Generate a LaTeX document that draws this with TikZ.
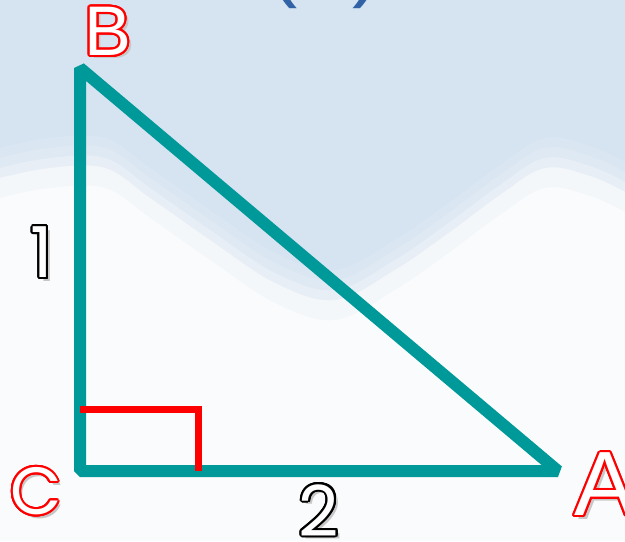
\documentclass[tikz,border=0pt]{standalone}
\usepackage{fontspec}
\usepackage{xcolor}
\usepackage[copies]{contour}
\usepackage{tikz}
\usetikzlibrary{calc, positioning}
\newfontfamily\vertexfont{Liberation Sans}
\newfontfamily\numfont{Poppins}
\definecolor{sky}{RGB}{214,227,241}
\definecolor{tealline}{RGB}{0,153,153}
\definecolor{parenblue}{RGB}{48,98,165}
\contourlength{1.1pt}
\contournumber{24}
\newcommand{\redlabel}[1]{\rlap{\kern2pt\raisebox{-2pt}{\textcolor{black!22}{#1}}}\contour{red}{\textcolor{white}{#1}}}
\newcommand{\blacklabel}[1]{\rlap{\kern2pt\raisebox{-2pt}{\textcolor{black!22}{#1}}}\contour{black}{\textcolor{white}{#1}}}
\tikzstyle{side} = [line width=0.24cm, draw=tealline, line join=bevel]
\tikzstyle{rightmark} = [line width=0.14cm, draw=red]
\tikzstyle{vertex} = [inner sep=0pt, font=\vertexfont\fontsize{40}{40}\selectfont]
\tikzstyle{length} = [inner sep=0pt, font=\numfont\fontsize{40}{40}\selectfont]

\begin{document}
\begin{tikzpicture}[x=0.02cm, y=-0.02cm]
    \useasboundingbox (0,0) rectangle (625,541);
    % sky and clouds
    \fill[sky] (0,0) rectangle (625,541);
    \foreach \d/\o in {30/0.12, 20/0.15, 10/0.25, 0/0.55, -20/0.5} {
        \fill[white, opacity=\o, shift={(0,-\d)}] plot[smooth, tension=0.6] coordinates {(0,178) (50,168) (105,168) (150,198) (210,240) (275,283) (335,300) (395,270) (450,232) (500,195) (545,168) (590,176) (625,192)} -- (625,600) -- (0,600) -- cycle;
    }

    \node[anchor=base, text=parenblue, font=\vertexfont\fontsize{50}{50}\selectfont] (paren) at (325,-10) {(\hspace{1.1cm})};

    \coordinate (B) at (80,68);
    \coordinate (C) at (80,471);
    \coordinate (A) at (558,471);
    \draw[side] (C) -- (B) -- (A) -- cycle;

    \coordinate (P) at ($(C)+(0,-62)$);
    \draw[rightmark] (P) -- ++(118,0) coordinate (Q) -- (Q |- C);

    \node[vertex] (labelB) at (108,33) {\redlabel{B}};
    \node[vertex, font=\vertexfont\fontsize{52}{52}\selectfont] (labelA) at (605,486) {\redlabel{A}};
    \node[length, font=\numfont\fontsize{38}{38}\selectfont] (labelC) at (36,493) {\redlabel{C}};
    \node[length] (labelBC) at (42,254) {\blacklabel{1}};
    \node[length] (labelCA) at (319,512) {\blacklabel{2}};
\end{tikzpicture}
\end{document}
